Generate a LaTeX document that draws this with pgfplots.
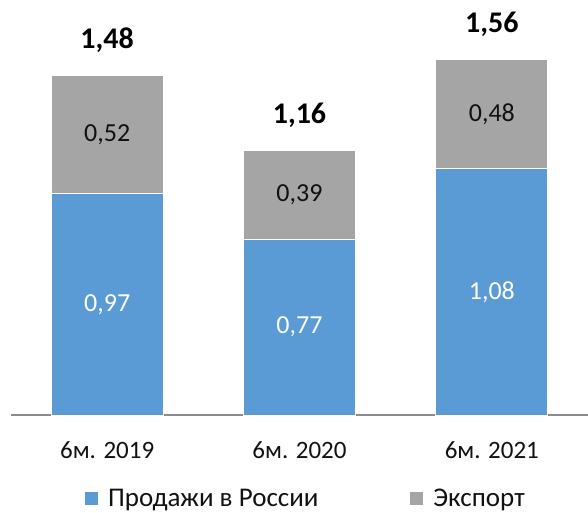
\documentclass[border=0pt]{standalone}
\usepackage{fontspec}
\setmainfont{Carlito}
\usepackage{pgfplots}
\pgfplotsset{compat=1.18}
\definecolor{rusblue}{HTML}{5B9BD5}
\definecolor{exgrey}{HTML}{A5A5A5}
\definecolor{axisgrey}{HTML}{8C8C8C}
\definecolor{txt}{HTML}{111111}
\pgfplotsset{
  frame/.style={scale only axis, width=577pt, height=415pt,
    xmin=-0.5, xmax=2.5, ymin=0, ymax=1.82, clip=false},
}
\begin{document}
\begin{tikzpicture}
\begin{axis}[
  frame,
  ybar stacked, bar width=112pt,
  axis y line=none, axis x line*=bottom,
  axis line style={draw=axisgrey, line width=2pt},
  xtick={0,1,2}, xticklabels={6м. 2019, 6м. 2020, 6м. 2021},
  major tick length=0pt, ytick=\empty,
  xticklabel style={font=\fontsize{25}{30}\selectfont, text=txt, anchor=base, yshift=-43pt},
  legend columns=2,
  legend style={draw=none, fill=none, font=\fontsize{27}{30}\selectfont, text=txt,
    at={(rel axis cs:0.128,-0.201)}, anchor=west, inner sep=0pt,
    /tikz/every odd column/.append style={column sep=8pt},
    /tikz/every even column/.append style={column sep=90pt}},
  legend image code/.code={\fill[#1, draw=none] (0pt,-6.5pt) rectangle (13pt,6.5pt);},
]
\addplot[fill=rusblue, draw=white, line width=0.75pt]
  coordinates {(0,0.97) (1,0.77) (2,1.08)};
\addplot[fill=exgrey, draw=white, line width=0.75pt]
  coordinates {(0,0.52) (1,0.39) (2,0.48)};
\legend{Продажи в России, Экспорт}
\coordinate (bl) at (rel axis cs:0,0);
\coordinate (tr) at (rel axis cs:1,1);
\end{axis}
% labels: same frame, not stacked
\begin{axis}[frame, hide axis, point meta=explicit symbolic, nodes near coords,
  nodes near coords align={anchor=center}]
\addplot[draw=none, mark=none,
  every node near coord/.append style={text=white, font=\fontsize{26}{30}\selectfont}]
  coordinates {(0,0.485)[0,97] (1,0.385)[0,77] (2,0.54)[1,08]};
\addplot[draw=none, mark=none,
  every node near coord/.append style={text=txt, font=\fontsize{26}{30}\selectfont}]
  coordinates {(0,1.23)[0,52] (1,0.965)[0,39] (2,1.32)[0,48]};
\addplot[draw=none, mark=none, nodes near coords align={anchor=base},
  every node near coord/.append style={text=black, font=\fontsize{30}{34}\selectfont\bfseries,
    yshift=27pt}]
  coordinates {(0,1.49)[1,48] (1,1.16)[1,16] (2,1.56)[1,56]};
\end{axis}
\pgfresetboundingbox
\path ([xshift=-11pt,yshift=-97pt]bl) rectangle (tr);
\end{tikzpicture}
\end{document}
